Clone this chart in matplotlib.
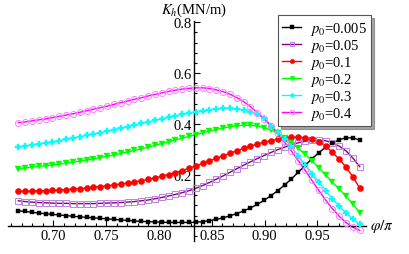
import numpy as np
import matplotlib
matplotlib.use("Agg")
import matplotlib.pyplot as plt
from matplotlib.lines import Line2D
from matplotlib.ticker import MultipleLocator, FixedLocator

plt.rcParams['font.family'] = ['Liberation Serif', 'DejaVu Serif']
plt.rcParams['mathtext.fontset'] = 'stix'

# phi/pi sample grid (51 points)
phi = np.linspace(0.6667, 0.99, 51)

k_0005 = [0.059, 0.056, 0.053, 0.050, 0.047, 0.045, 0.042, 0.040, 0.037, 0.035,
          0.033, 0.031, 0.029, 0.027, 0.025, 0.023, 0.021, 0.019, 0.017, 0.016,
          0.015, 0.014, 0.013, 0.013, 0.013, 0.013, 0.014, 0.016, 0.020, 0.025,
          0.031, 0.039, 0.048, 0.058, 0.070, 0.084, 0.100, 0.118, 0.138, 0.160,
          0.184, 0.210, 0.237, 0.263, 0.287, 0.308, 0.325, 0.338, 0.346, 0.345,
          0.337]
k_005 = [0.098, 0.095, 0.093, 0.091, 0.090, 0.089, 0.088, 0.088, 0.087, 0.087,
         0.087, 0.087, 0.088, 0.089, 0.090, 0.091, 0.093, 0.095, 0.098, 0.101,
         0.106, 0.111, 0.117, 0.123, 0.130, 0.138, 0.147, 0.158, 0.170, 0.183,
         0.196, 0.210, 0.224, 0.238, 0.251, 0.264, 0.276, 0.288, 0.299, 0.309,
         0.318, 0.326, 0.332, 0.336, 0.337, 0.334, 0.326, 0.313, 0.294, 0.266,
         0.232]
k_01 = [0.135, 0.135, 0.136, 0.137, 0.138, 0.139, 0.140, 0.142, 0.144, 0.146,
        0.148, 0.151, 0.154, 0.157, 0.160, 0.164, 0.168, 0.172, 0.177, 0.182,
        0.188, 0.194, 0.201, 0.209, 0.217, 0.226, 0.235, 0.245, 0.255, 0.265,
        0.275, 0.285, 0.295, 0.304, 0.313, 0.321, 0.328, 0.334, 0.340, 0.344,
        0.347, 0.348, 0.346, 0.340, 0.330, 0.314, 0.288, 0.262, 0.230, 0.192,
        0.148]
k_02 = [0.224, 0.227, 0.230, 0.233, 0.236, 0.239, 0.242, 0.246, 0.250, 0.254,
        0.258, 0.263, 0.268, 0.273, 0.278, 0.284, 0.290, 0.296, 0.302, 0.309,
        0.316, 0.323, 0.330, 0.337, 0.344, 0.351, 0.358, 0.365, 0.372, 0.378,
        0.384, 0.389, 0.393, 0.395, 0.395, 0.392, 0.386, 0.376, 0.363, 0.346,
        0.326, 0.304, 0.281, 0.255, 0.228, 0.200, 0.170, 0.145, 0.115, 0.085,
        0.052]
k_03 = [0.310, 0.314, 0.318, 0.322, 0.326, 0.330, 0.335, 0.340, 0.345, 0.350,
        0.355, 0.361, 0.366, 0.372, 0.378, 0.384, 0.390, 0.396, 0.402, 0.408,
        0.414, 0.420, 0.426, 0.432, 0.438, 0.443, 0.448, 0.452, 0.456, 0.459,
        0.461, 0.461, 0.459, 0.455, 0.448, 0.438, 0.424, 0.393, 0.368, 0.340,
        0.310, 0.275, 0.240, 0.205, 0.172, 0.138, 0.106, 0.077, 0.050, 0.026,
        0.005]
k_04 = [0.405, 0.408, 0.412, 0.416, 0.420, 0.425, 0.430, 0.435, 0.440, 0.446,
        0.452, 0.458, 0.464, 0.470, 0.477, 0.484, 0.490, 0.497, 0.503, 0.510,
        0.516, 0.522, 0.528, 0.533, 0.537, 0.540, 0.542, 0.542, 0.539, 0.534,
        0.527, 0.517, 0.504, 0.488, 0.468, 0.445, 0.420, 0.392, 0.361, 0.328,
        0.294, 0.256, 0.218, 0.178, 0.139, 0.101, 0.067, 0.037, 0.012, -0.006,
        -0.018]

labels = ['0.005', '0.05', '0.1', '0.2', '0.3', '0.4']
series = [k_0005, k_005, k_01, k_02, k_03, k_04]
line_colors = ['black', '#800080', 'red', '#00ff00', '#00ffff', '#ff00ff']
mark_face = ['black', 'none', 'red', '#00ff00', '#00ffff', 'none']
mark_edge = ['black', '#c080e0', 'red', '#00ff00', '#00ffff', '#ff80ff']
markers = ['s', 's', 'o', 'v', 'P', 'o']
msizes = [3.3, 4.0, 4.4, 3.8, 4.4, 4.4]
mews = [0.3, 0.7, 0.3, 0.3, 0.3, 0.7]

fig = plt.figure(figsize=(4.09, 2.55), dpi=100)
ax = fig.add_axes([0.0196, 0.051, 0.8754, 0.863])

handles = []
for y, lab, lc, mf, me, mk, ms, mw in zip(series, labels, line_colors, mark_face,
                                          mark_edge, markers, msizes, mews):
    ax.plot(phi, y, color=lc, lw=1.0, zorder=2)
    ax.plot(phi, y, ls='none', marker=mk, ms=ms, mfc=mf, mec=me, mew=mw, zorder=3)
    handles.append(Line2D([], [], color=lc, lw=1.0, marker=mk, ms=3.2,
                          mfc=mf, mec=me, mew=mw, label=r'$p_0$=' + lab))

ax.set_xlim(0.657, 0.996)
ax.set_ylim(-0.06, 0.805)

for s in ['top', 'right']:
    ax.spines[s].set_visible(False)
ax.spines['left'].set_position(('data', 0.8333))
ax.spines['bottom'].set_position(('data', 0.0))
ax.spines['left'].set_linewidth(1.0)
ax.spines['bottom'].set_linewidth(1.0)

ax.xaxis.set_major_locator(FixedLocator([0.70, 0.75, 0.80, 0.85, 0.90, 0.95]))
ax.xaxis.set_minor_locator(MultipleLocator(0.01))
ax.yaxis.set_major_locator(FixedLocator([0.2, 0.4, 0.6, 0.8]))
ax.yaxis.set_minor_locator(MultipleLocator(0.04))
ax.set_xticklabels(['0.70', '0.75', '0.80', '0.85', '0.90', '0.95'])
ax.set_yticklabels(['0.2', '0.4', '0.6', '0.8'])
ax.tick_params(which='both', direction='in', labelsize=10.5, width=0.8, pad=2)
ax.tick_params(which='major', length=4)
ax.tick_params(which='minor', length=2)

ax.text(0.8333, 0.815, r'$K_h$(MN/m)', ha='center', va='bottom', fontsize=10.5,
        clip_on=False)
ax.text(1.0, 0.0, r'$\varphi/\pi$', ha='left', va='center', fontsize=11,
        clip_on=False)

leg = ax.legend(handles=handles, loc='upper left', bbox_to_anchor=(0.754, 1.025),
                fontsize=10.5, frameon=True, shadow=True, fancybox=False,
                handlelength=1.3, handletextpad=0.6, labelspacing=0.0,
                borderpad=0.3, borderaxespad=0)
leg.get_frame().set_edgecolor('#555555')
leg.get_frame().set_linewidth(0.8)

fig.savefig('out.png', dpi=100)
